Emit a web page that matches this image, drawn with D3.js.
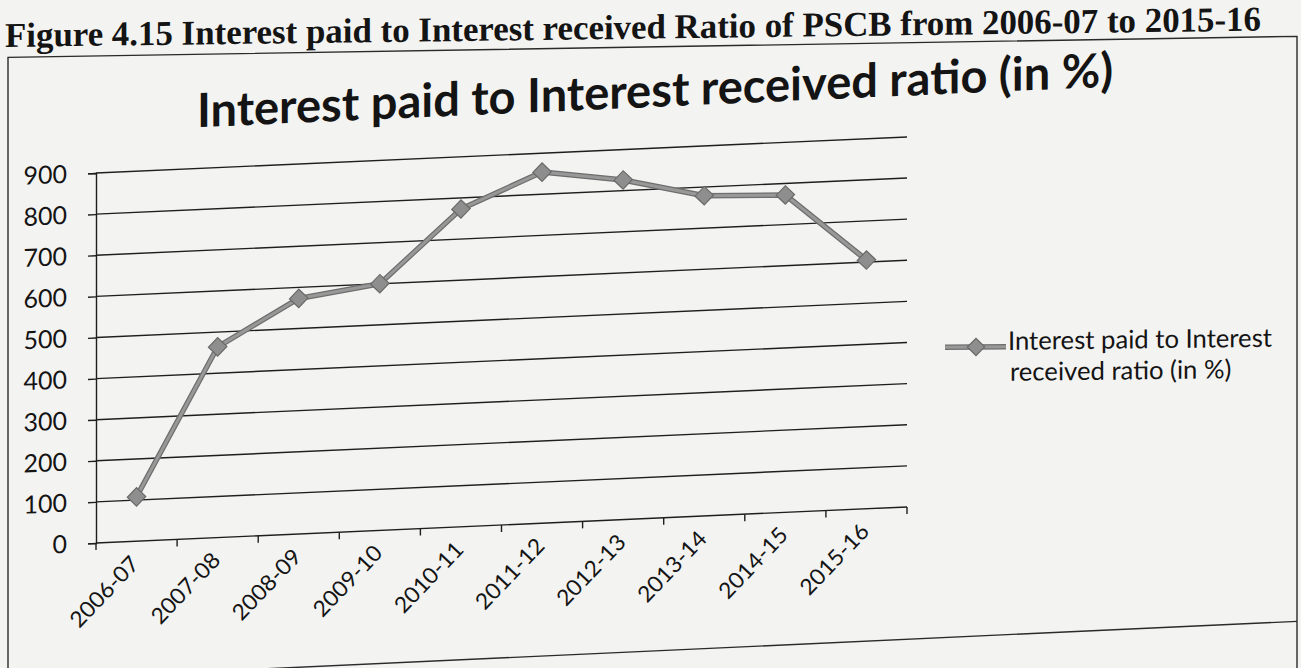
<!DOCTYPE html>
<html>
<head>
<meta charset="utf-8">
<script src="https://cdn.jsdelivr.net/npm/d3@7"></script>
<style>
  html, body { margin: 0; padding: 0; background: #f3f3f2; }
  svg { display: block; }
</style>
</head>
<body>
<svg id="chart" width="1301" height="668"></svg>
<script>
// Financial years on the category axis
const categories = ["2006-07", "2007-08", "2008-09", "2009-10", "2010-11",
                    "2011-12", "2012-13", "2013-14", "2014-15", "2015-16"];
// Interest paid to interest received ratio (in %)
const ratio = [108, 464, 573, 600, 773, 854, 826, 779, 772, 605];
// Value axis ticks
const yTicks = [0, 100, 200, 300, 400, 500, 600, 700, 800, 900];

const seriesName = "Interest paid to Interest received ratio (in %)";
const legendLines = ["Interest paid to Interest", "received ratio (in %)"];
const chartTitle = "Interest paid to Interest received ratio (in %)";
const caption = "Figure 4.15 Interest paid to Interest received Ratio of PSCB from 2006-07 to 2015-16";

const svg = d3.select("#chart");
const W = 1301, H = 668;
const ink = "#141414";

svg.append("rect").attr("width", W).attr("height", H).attr("fill", "#f3f3f2");

// fit a text element's font size so that its rendered width equals target
function fitWidth(sel, target) {
  const node = sel.node();
  const size = parseFloat(sel.attr("font-size"));
  const w = node.getComputedTextLength();
  sel.attr("font-size", (size * target / w).toFixed(2));
}

// ---- caption above the chart frame ----
const capG = svg.append("g").attr("transform", "matrix(1,-0.013,0,1,0,0)");
const cap = capG.append("text")
  .attr("x", 5).attr("y", 47)
  .attr("font-family", "'Liberation Serif', 'Times New Roman', serif")
  .attr("font-weight", "bold")
  .attr("font-size", 32)
  .attr("fill", ink)
  .text(caption);
fitWidth(cap, 1256);

// ---- outer frame of the chart object ----
const frameG = svg.append("g").attr("transform", "matrix(1,-0.0163,0,1,0,0)");
frameG.append("path")
  .attr("d", "M8,720 L8,57.5 L1297,57.5 L1297,720")
  .attr("fill", "none").attr("stroke", "#2a2a2a").attr("stroke-width", 1.4);
const bottomG = svg.append("g").attr("transform", "matrix(1,-0.046,0,1,0,0)");
bottomG.append("line")
  .attr("x1", 8).attr("x2", 1297).attr("y1", 681).attr("y2", 681)
  .attr("stroke", "#2a2a2a").attr("stroke-width", 1.4);

// ---- chart body ----
const k = -0.0445;
const g = svg.append("g").attr("transform", `matrix(1,${k},0,1,0,0)`);

const plot = { left: 96, right: 907, top: 177.3, bottom: 547.3 };

const x = d3.scaleBand().domain(categories).range([plot.left, plot.right]).padding(0);
const y = d3.scaleLinear().domain([0, 900]).range([plot.bottom, plot.top]);

// title
const title = g.append("text")
  .attr("x", 655).attr("y", 136)
  .attr("text-anchor", "middle")
  .attr("font-family", "Lato, 'Open Sans', sans-serif")
  .attr("font-weight", "bold")
  .attr("font-size", 38)
  .attr("fill", ink)
  .text(chartTitle);
fitWidth(title, 916);

// horizontal gridlines
g.append("g").selectAll("line")
  .data(yTicks.filter(d => d > 0))
  .join("line")
  .attr("x1", plot.left).attr("x2", plot.right)
  .attr("y1", d => y(d)).attr("y2", d => y(d))
  .attr("stroke", "#1e1e1e").attr("stroke-width", 1.4);

// value axis
const yAxis = g.append("g")
  .attr("transform", `translate(${plot.left},0)`)
  .call(d3.axisLeft(y).tickValues(yTicks).tickSize(8).tickPadding(21).tickFormat(d3.format("d")));
yAxis.select(".domain").attr("stroke", "#1e1e1e").attr("stroke-width", 1.4);
yAxis.selectAll(".tick line").attr("stroke", "#1e1e1e").attr("stroke-width", 1.4);
yAxis.selectAll(".tick text")
  .attr("font-family", "Lato, 'Open Sans', sans-serif")
  .attr("font-size", 25)
  .attr("fill", ink);

// category axis: baseline and tick marks between categories
const xBoundaries = categories.map(c => x(c)).concat([x.range()[1]]);
g.append("line")
  .attr("x1", plot.left).attr("x2", plot.right)
  .attr("y1", plot.bottom).attr("y2", plot.bottom)
  .attr("stroke", "#1e1e1e").attr("stroke-width", 1.4);
g.append("g").selectAll("line")
  .data(xBoundaries)
  .join("line")
  .attr("x1", d => d).attr("x2", d => d)
  .attr("y1", plot.bottom).attr("y2", plot.bottom + 7)
  .attr("stroke", "#1e1e1e").attr("stroke-width", 1.4);

g.append("g").selectAll("text")
  .data(categories)
  .join("text")
  .attr("transform", d => `translate(${x(d) + x.bandwidth() / 2 + 4},${plot.bottom + 24}) rotate(-45)`)
  .attr("text-anchor", "end")
  .attr("font-family", "Lato, 'Open Sans', sans-serif")
  .attr("font-size", 22.5)
  .attr("fill", ink)
  .text(d => d);

// series line
const pts = categories.map((c, i) => ({ c, v: ratio[i] }));
const line = d3.line().x(d => x(d.c) + x.bandwidth() / 2).y(d => y(d.v));
g.append("path").datum(pts)
  .attr("d", line).attr("fill", "none")
  .attr("stroke", "#6e6e6e").attr("stroke-width", 5.5)
  .attr("stroke-linejoin", "round");
g.append("path").datum(pts)
  .attr("d", line).attr("fill", "none")
  .attr("stroke", "#989898").attr("stroke-width", 3)
  .attr("stroke-linejoin", "round");

// diamond markers
const diamond = d3.symbol().type(d3.symbolSquare).size(170);
g.append("g").selectAll("path")
  .data(pts)
  .join("path")
  .attr("d", diamond)
  .attr("transform", d => `translate(${x(d.c) + x.bandwidth() / 2},${y(d.v)}) rotate(45)`)
  .attr("fill", "#8e8e8e").attr("stroke", "#6a6a6a").attr("stroke-width", 1.2);

// ---- legend ----
const lg = svg.append("g").attr("transform", "matrix(1,-0.012,0,1,0,0)")
  .attr("aria-label", seriesName);
lg.append("line")
  .attr("x1", 945).attr("x2", 1006).attr("y1", 358.7).attr("y2", 358.7)
  .attr("stroke", "#6e6e6e").attr("stroke-width", 5.5);
lg.append("line")
  .attr("x1", 945).attr("x2", 1006).attr("y1", 358.7).attr("y2", 358.7)
  .attr("stroke", "#989898").attr("stroke-width", 3);
lg.append("path")
  .attr("d", d3.symbol().type(d3.symbolSquare).size(150))
  .attr("transform", "translate(976,358.7) rotate(45)")
  .attr("fill", "#8e8e8e").attr("stroke", "#6a6a6a").attr("stroke-width", 1.2);
const l1 = lg.append("text")
  .attr("x", 1008).attr("y", 362)
  .attr("font-family", "Lato, 'Open Sans', sans-serif")
  .attr("font-size", 22)
  .attr("fill", ink)
  .text(legendLines[0]);
fitWidth(l1, 264);
const fs = l1.attr("font-size");
lg.append("text")
  .attr("x", 1010).attr("y", 393)
  .attr("font-family", "Lato, 'Open Sans', sans-serif")
  .attr("font-size", fs)
  .attr("fill", ink)
  .text(legendLines[1]);
</script>
</body>
</html>
